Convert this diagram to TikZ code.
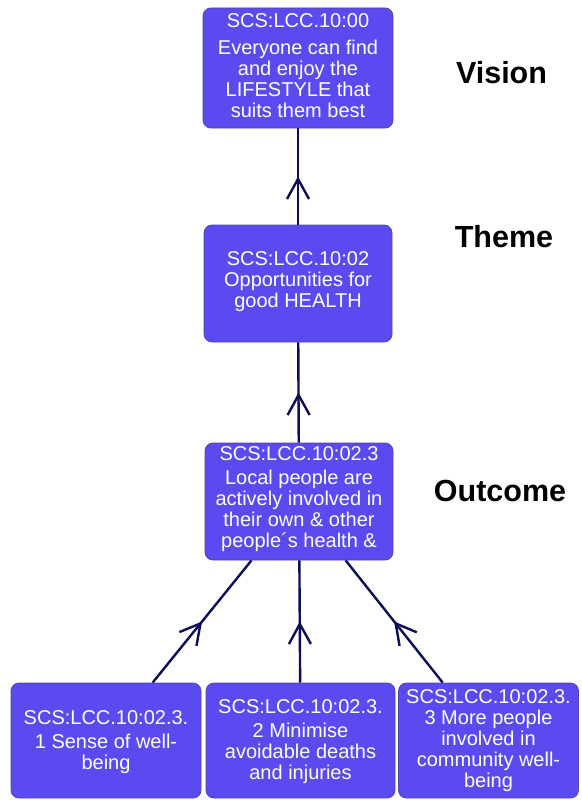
\documentclass[tikz,border=0pt]{standalone}
\usepackage{fontspec}
\setmainfont{Liberation Sans}
\usetikzlibrary{arrows.meta,decorations.markings}
\definecolor{boxblue}{RGB}{90,74,240}
\definecolor{boxedge}{RGB}{80,70,170}
\definecolor{linkcol}{RGB}{12,12,90}
\begin{document}
\begin{tikzpicture}[x=1pt,y=-1pt,
  box/.style={fill=boxblue, draw=boxedge, line width=0.8pt, rounded corners=8pt, inner sep=0pt},
  txt/.style={text=white, align=center, font=\fontsize{20}{21}\selectfont, inner sep=0pt},
  lab/.style={font=\fontsize{30.5}{34}\selectfont\bfseries, text=black, inner sep=0pt},
  conn/.style={color=linkcol, line width=2.4pt, postaction={decorate},
    decoration={markings, mark=at position 0.5 with {\arrow{Straight Barb[length=20pt,width=22pt,line width=2.4pt]}}}}
]
\useasboundingbox[fill=white] (0,0) rectangle (581,800);
% boxes
\node[box, minimum width=190pt, minimum height=120pt] (vis) at (298,68) {};
\node[box, minimum width=188pt, minimum height=117pt] (thm) at (298,283.5) {};
\node[box, minimum width=188pt, minimum height=117pt] (out) at (299,501.5) {};
\node[box, minimum width=190pt, minimum height=115pt] (b1) at (106,740.5) {};
\node[box, minimum width=189pt, minimum height=115pt] (b2) at (300.5,740.5) {};
\node[box, minimum width=180pt, minimum height=115pt] (b3) at (488.5,740.5) {};
% connectors (child to parent)
\draw[conn] (thm) -- (vis);
\draw[conn] (out) -- (thm);
\draw[conn] (b1) -- (out);
\draw[conn] (b2) -- (out);
\draw[conn] (b3) -- (out);
% texts
\begin{scope}
\clip[rounded corners=8pt] (vis.south west) rectangle (vis.north east);
\node[txt] (vist) at (298,66) {SCS:LCC.10:00\\[6pt]Everyone can find\\and enjoy the\\LIFESTYLE that\\suits them best};
\end{scope}
\begin{scope}
\clip[rounded corners=8pt] (thm.south west) rectangle (thm.north east);
\node[txt] (thmt) at (298,282) {SCS:LCC.10:02\\Opportunities for\\good HEALTH};
\end{scope}
\begin{scope}
\clip[rounded corners=8pt] (out.south west) rectangle (out.north east);
\node[txt] (outt) at (299,499) {SCS:LCC.10:02.3\\[3pt]Local people are\\actively involved in\\their own \& other\\people´s health \&};
\end{scope}
\begin{scope}
\clip[rounded corners=8pt] (b1.south west) rectangle (b1.north east);
\node[txt] (b1t) at (106,742) {SCS:LCC.10:02.3.\\[3pt]1 Sense of well-\\being};
\end{scope}
\begin{scope}
\clip[rounded corners=8pt] (b2.south west) rectangle (b2.north east);
\node[txt] (b2t) at (300.5,742) {SCS:LCC.10:02.3.\\[3pt]2 Minimise\\avoidable deaths\\and injuries};
\end{scope}
\begin{scope}
\clip[rounded corners=8pt] (b3.south west) rectangle (b3.north east);
\node[txt] (b3t) at (488.5,741) {SCS:LCC.10:02.3.\\3 More people\\involved in\\community well-\\being};
\end{scope}
% level labels
\node[lab] (lvis) at (501.5,72.5) {Vision};
\node[lab] (lthm) at (504,237) {Theme};
\node[lab] (lout) at (500,491) {Outcome};
\end{tikzpicture}
\end{document}
